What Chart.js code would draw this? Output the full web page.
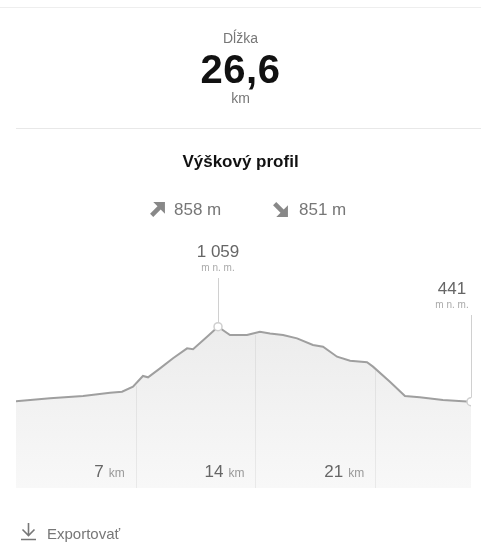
<!DOCTYPE html>
<html>
<head>
<meta charset="utf-8">
<script src="https://cdn.jsdelivr.net/npm/chart.js@4.4.1/dist/chart.umd.min.js"></script>
<style>
  html, body { margin: 0; padding: 0; background: #fff; }
  body { width: 481px; height: 547px; position: relative; overflow: hidden;
         font-family: "Liberation Sans", Arial, Helvetica, sans-serif; }
  .abs { position: absolute; line-height: 1; }
  .center { left: 0; width: 481px; text-align: center; }
  #chartBox { position: absolute; left: 0; top: 0; width: 481px; height: 547px; }
</style>
</head>
<body>
<div id="chartBox"><canvas id="profileChart"></canvas></div>

<div class="abs" style="left:0;top:7px;width:481px;height:1px;background:#eee"></div>
<div class="abs center" style="top:31px;font-size:14px;color:#777">Dĺžka</div>
<div class="abs center" style="top:49px;font-size:40px;letter-spacing:0.5px;font-weight:bold;color:#111">26,6</div>
<div class="abs center" style="top:91px;font-size:14px;color:#777">km</div>
<div class="abs" style="left:16px;top:128px;width:465px;height:1px;background:#e8e8e8"></div>

<div class="abs center" style="top:153px;font-size:17px;font-weight:bold;color:#111">Výškový profil</div>

<svg class="abs" style="left:149px;top:201px" width="17" height="17" viewBox="0 0 16 16">
  <path d="M4 1 H15 V12 L11 8 L4 15 L1 12 L8 5 Z" fill="#888"/>
</svg>
<div class="abs" style="left:174px;top:201px;font-size:17px;color:#777">858 m</div>
<svg class="abs" style="left:272px;top:201px" width="17" height="17" viewBox="0 0 16 16">
  <path d="M4 15 H15 V4 L11 8 L4 1 L1 4 L8 11 Z" fill="#888"/>
</svg>
<div class="abs" style="left:299px;top:201px;font-size:17px;color:#777">851 m</div>

<svg class="abs" style="left:19px;top:522px" width="19" height="19" viewBox="0 0 19 19">
  <path d="M9.5 1 V13 M3.5 7.5 L9.5 13.5 L15.5 7.5 M2 17.5 H17" stroke="#777" stroke-width="1.6" fill="none"/>
</svg>
<div class="abs" style="left:47px;top:526px;font-size:15px;color:#777">Exportovať</div>

<script>
// Elevation profile data
const distanceKm = [0, 1.99, 3.92, 5.5, 6.2, 6.84, 7.42, 7.72, 8.42, 9.18, 10.0, 10.35, 11.17, 11.81,
  12.51, 13.5, 14.26, 14.85, 15.61, 16.43, 17.36, 17.95, 18.77, 19.53, 20.52, 20.87, 21.86,
  22.74, 23.6, 24.96, 26.6];
const elevationM = [445, 469, 488, 515, 523, 565, 653, 642, 716, 799, 881, 873, 977, 1059,
  991, 991, 1018, 1004, 991, 963, 908, 894, 812, 779, 766, 730, 606,
  488, 477, 455, 441];
const tickKm = [7, 14, 21];
const totalKm = 26.6;
const peakLabel = ['1 059', 'm n. m.'];
const endLabel = ['441', 'm n. m.'];

const peakIndex = elevationM.indexOf(Math.max(...elevationM));
const endIndex = elevationM.length - 1;

// Linear interpolation of elevation at a given distance
function elevationAt(km) {
  for (let i = 1; i < distanceKm.length; i++) {
    if (km <= distanceKm[i]) {
      const t = (km - distanceKm[i - 1]) / (distanceKm[i] - distanceKm[i - 1]);
      return elevationM[i - 1] + t * (elevationM[i] - elevationM[i - 1]);
    }
  }
  return elevationM[endIndex];
}

// Grid lines under the curve, km labels and point labels
const profileDecor = {
  id: 'profileDecor',
  afterDatasetsDraw(chart) {
    const { ctx, chartArea, scales } = chart;
    const xs = scales.x;
    const ys = scales.y;
    ctx.save();

    // vertical grid lines (only inside the fill)
    ctx.strokeStyle = 'rgba(0,0,0,0.06)';
    ctx.lineWidth = 1;
    tickKm.forEach((km) => {
      const x = Math.round(xs.getPixelForValue(km)) + 0.5;
      ctx.beginPath();
      ctx.moveTo(x, ys.getPixelForValue(elevationAt(km)) + 2);
      ctx.lineTo(x, chartArea.bottom);
      ctx.stroke();
    });

    // km labels
    ctx.textBaseline = 'alphabetic';
    tickKm.forEach((km) => {
      const right = xs.getPixelForValue(km) - 11;
      ctx.font = '12px "Liberation Sans", Arial, sans-serif';
      ctx.fillStyle = '#999';
      ctx.textAlign = 'right';
      ctx.fillText('km', right, 477);
      const w = ctx.measureText('km').width;
      ctx.font = '17px "Liberation Sans", Arial, sans-serif';
      ctx.fillStyle = '#666';
      ctx.fillText(String(km), right - w - 5, 477);
    });

    // vertical marker lines + labels
    const marks = [
      { i: peakIndex, label: peakLabel, lineTop: 278, labelX: null },
      { i: endIndex, label: endLabel, lineTop: 315, labelX: 452 },
    ];
    marks.forEach((m) => {
      const x = xs.getPixelForValue(distanceKm[m.i]);
      const y = ys.getPixelForValue(elevationM[m.i]);
      ctx.strokeStyle = '#d0d0d0';
      ctx.lineWidth = 1;
      ctx.beginPath();
      ctx.moveTo(Math.round(x) + 0.5, m.lineTop);
      ctx.lineTo(Math.round(x) + 0.5, y - 4);
      ctx.stroke();

      const lx = m.labelX !== null ? m.labelX : x;
      ctx.textAlign = 'center';
      ctx.font = '17px "Liberation Sans", Arial, sans-serif';
      ctx.fillStyle = '#666';
      ctx.fillText(m.label[0], lx, m.lineTop - 21);
      ctx.font = '10px "Liberation Sans", Arial, sans-serif';
      ctx.fillStyle = '#aaa';
      ctx.fillText(m.label[1], lx, m.lineTop - 7);
    });

    ctx.restore();
  },
};

const ctx = document.getElementById('profileChart');
new Chart(ctx, {
  type: 'line',
  data: {
    datasets: [
      {
        data: distanceKm.map((km, i) => ({ x: km, y: elevationM[i] })),
        borderColor: '#9f9f9f',
        borderWidth: 2,
        tension: 0,
        fill: 'start',
        backgroundColor: (context) => {
          const area = context.chart.chartArea;
          if (!area) return '#efefef';
          const g = context.chart.ctx.createLinearGradient(0, area.top + 45, 0, area.bottom);
          g.addColorStop(0, '#ececec');
          g.addColorStop(1, '#f8f8f8');
          return g;
        },
        pointRadius: (c) => (c.dataIndex === peakIndex || c.dataIndex === endIndex ? 4 : 0),
        pointBackgroundColor: '#fff',
        pointBorderColor: '#cfcfcf',
        pointBorderWidth: 1.5,
      },
    ],
  },
  options: {
    responsive: true,
    maintainAspectRatio: false,
    animation: false,
    layout: { padding: { left: 16, right: 10, top: 280, bottom: 59 } },
    scales: {
      x: { type: 'linear', min: 0, max: totalKm, display: false },
      y: { min: -270, max: 1444, display: false },
    },
    plugins: {
      legend: { display: false },
      tooltip: { enabled: false },
    },
  },
  plugins: [profileDecor],
});
</script>
</body>
</html>
